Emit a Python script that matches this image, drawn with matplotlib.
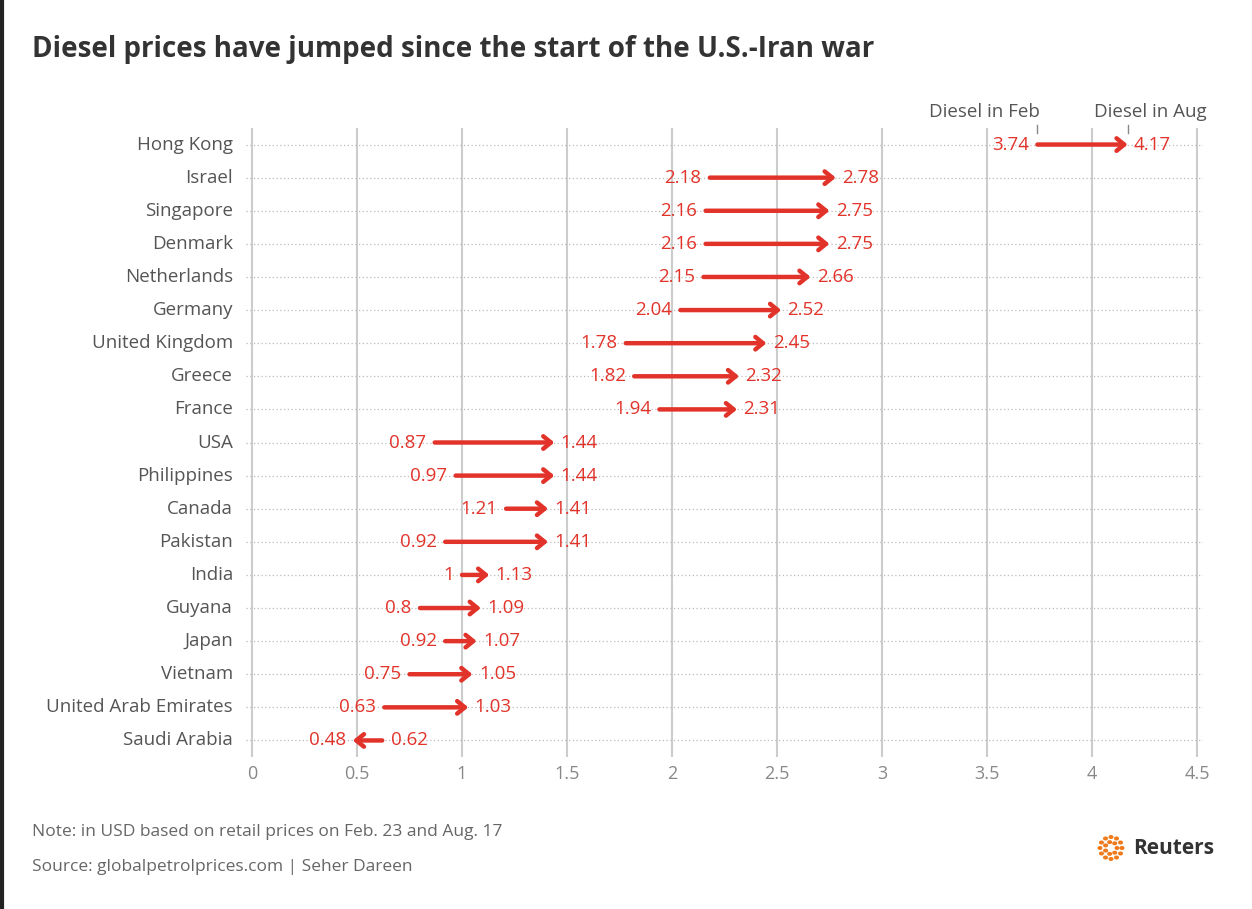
import numpy as np
import matplotlib
matplotlib.use("Agg")
import matplotlib.pyplot as plt

countries = ["Hong Kong", "Israel", "Singapore", "Denmark", "Netherlands", "Germany",
             "United Kingdom", "Greece", "France", "USA", "Philippines", "Canada",
             "Pakistan", "India", "Guyana", "Japan", "Vietnam", "United Arab Emirates",
             "Saudi Arabia"]
feb = [3.74, 2.18, 2.16, 2.16, 2.15, 2.04, 1.78, 1.82, 1.94, 0.87, 0.97, 1.21,
       0.92, 1.0, 0.8, 0.92, 0.75, 0.63, 0.62]
aug = [4.17, 2.78, 2.75, 2.75, 2.66, 2.52, 2.45, 2.32, 2.31, 1.44, 1.44, 1.41,
       1.41, 1.13, 1.09, 1.07, 1.05, 1.03, 0.48]
xticks = [0, 0.5, 1, 1.5, 2, 2.5, 3, 3.5, 4, 4.5]

RED = "#e2332a"
GREY = "#555555"
plt.rcParams["font.family"] = ["Open Sans", "DejaVu Sans"]


def fmt(v):
    return f"{v:g}"


fig = plt.figure(figsize=(12.52, 9.09), dpi=100)
W, H = 1252, 909
ax = fig.add_axes([245.7 / W, 1 - 757 / H, (1203.3 - 245.7) / W, (757 - 128) / H])
ax.set_xlim(-0.03, 4.53)
ax.set_ylim(-0.5, 18.5)
for s in ax.spines.values():
    s.set_visible(False)
ax.set_yticks([])
ax.set_xticks(xticks)
ax.set_xticklabels([fmt(t) for t in xticks], fontsize=13, color="#888888")
ax.tick_params(axis="x", length=0, pad=6)
for t in xticks:
    ax.axvline(t, color="#cccccc", lw=1.5, zorder=0)

n = len(countries)
for i, (c, a, b) in enumerate(zip(countries, feb, aug)):
    y = n - 1 - i
    ax.axhline(y, color="#bbbbbb", lw=0.9, ls=(0, (1, 2)), zorder=0)
    ax.text(-0.09, y, c, ha="right", va="center", fontsize=13.5, color=GREY)
    ax.annotate("", xy=(b, y), xytext=(a, y),
                arrowprops=dict(arrowstyle="->,head_length=0.55,head_width=0.45",
                                lw=3.2, color=RED, shrinkA=0, shrinkB=0))
    d = 1 if b >= a else -1
    ax.text(a - d * 0.04, y, fmt(a), ha="right" if d > 0 else "left", va="center",
            fontsize=13.5, color=RED)
    ax.text(b + d * 0.03, y, fmt(b), ha="left" if d > 0 else "right", va="center",
            fontsize=13.5, color=RED)

# header labels above first row
ytop = n - 1
for v, lab, tx, ha in [(feb[0], "Diesel in Feb", feb[0] + 0.01, "right"),
                       (aug[0], "Diesel in Aug", 4.01, "left")]:
    ax.plot([v, v], [ytop + 0.35, ytop + 0.6], color="#888888", lw=1, clip_on=False)
    ax.text(tx, ytop + 0.72, lab, ha=ha, va="bottom", fontsize=13.5, color=GREY)

fig.text(32 / W, 1 - 50 / H, "Diesel prices have jumped since the start of the U.S.-Iran war",
         fontsize=20, fontweight="bold", color="#333333", va="center")
fig.text(32 / W, 1 - 832 / H, "Note: in USD based on retail prices on Feb. 23 and Aug. 17",
         fontsize=12.5, color="#666666", va="center")
fig.text(32 / W, 1 - 867 / H, "Source: globalpetrolprices.com | Seher Dareen",
         fontsize=12.5, color="#666666", va="center")

# logo
cx, cy = 1111 / W, 1 - 848 / H
for r, k in [(11, 12), (6, 7)]:
    for t in np.linspace(0, 2 * np.pi, k, endpoint=False):
        fig.add_artist(plt.Circle((cx + r * np.cos(t) / W, cy + r * np.sin(t) / H),
                                  1.8 / W, color="#f07a1a", transform=fig.transFigure))
fig.text(1133 / W, cy, "Reuters", fontsize=15, fontweight="bold", color="#333333",
         va="center")

fig.add_artist(plt.Line2D([1.5 / W, 1.5 / W], [0, 1], color="#222222", lw=3,
                          transform=fig.transFigure))
fig.savefig("out.png", dpi=100)
